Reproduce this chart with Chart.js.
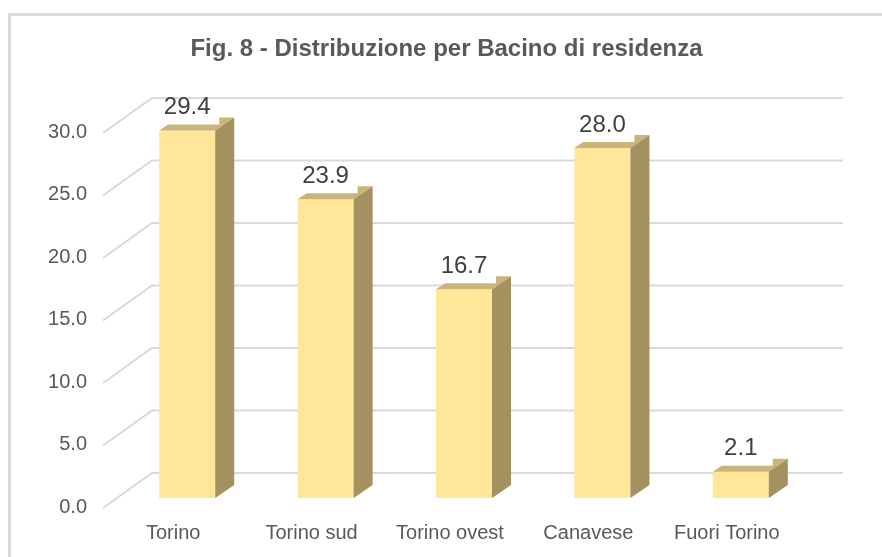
<!DOCTYPE html>
<html>
<head>
<meta charset="utf-8">
<script src="https://cdn.jsdelivr.net/npm/chart.js@4.4.1/dist/chart.umd.min.js"></script>
<style>
  html, body { margin: 0; padding: 0; background: #fff; overflow: hidden; }
  #frame {
    position: absolute; left: 8px; top: 13px; width: 900px; height: 600px;
    border-left: 3px solid #D9D9D9; border-top: 3px solid #D9D9D9;
  }
  #wrap { position: absolute; left: 0; top: 0; width: 882px; height: 557px; }
</style>
</head>
<body>
<div id="frame"></div>
<div id="wrap"><canvas id="chart" width="882" height="557"></canvas></div>
<script>
// Data
const bacini = ["Torino", "Torino sud", "Torino ovest", "Canavese", "Fuori Torino"];
const percentuali = [29.4, 23.9, 16.7, 28.0, 2.1];
const yTicks = [0, 5, 10, 15, 20, 25, 30];

const FONT = '"Liberation Sans", Arial, sans-serif';

// Draws the 3D back wall grid, bar tops/sides and value labels
const depthPlugin = {
    id: 'depth',
    beforeDatasetsDraw(chart) {
        const { ctx, chartArea, scales: { y } } = chart;
        const wallFront = chartArea.left - 15;
        const wallBack = chartArea.left + 34;
        const gridEnd = chartArea.right + 33;
        ctx.save();
        ctx.strokeStyle = '#D9D9D9';
        ctx.lineWidth = 2;
        y.ticks.forEach(t => {
            const py = y.getPixelForValue(t.value);
            ctx.beginPath();
            ctx.moveTo(wallFront, py + 10);
            ctx.lineTo(wallBack, py - 25);
            ctx.lineTo(gridEnd, py - 25);
            ctx.stroke();
        });
        ctx.restore();
    },
    afterDatasetsDraw(chart) {
        const { ctx } = chart;
        const meta = chart.getDatasetMeta(0);
        const dx = 19, dy = 13;
        ctx.save();
        meta.data.forEach((bar, i) => {
            const x0 = bar.x - bar.width / 2;
            const x1 = bar.x + bar.width / 2;
            const top = bar.y, base = bar.base;

            // top face
            ctx.fillStyle = '#C9B57A';
            ctx.beginPath();
            ctx.moveTo(x0, top);
            ctx.lineTo(x0 + 9, top - 6);
            ctx.lineTo(x1 + 4, top - 6);
            ctx.lineTo(x1 + 4, top - dy);
            ctx.lineTo(x1 + dx, top - dy);
            ctx.lineTo(x1, top);
            ctx.closePath();
            ctx.fill();

            // side face
            ctx.fillStyle = '#A39160';
            ctx.beginPath();
            ctx.moveTo(x1, top);
            ctx.lineTo(x1 + dx, top - dy);
            ctx.lineTo(x1 + dx, base - dy);
            ctx.lineTo(x1, base);
            ctx.closePath();
            ctx.fill();

            // value label
            ctx.fillStyle = '#404040';
            ctx.font = '24px ' + FONT;
            ctx.textAlign = 'center';
            ctx.textBaseline = 'middle';
            ctx.fillText(percentuali[i].toFixed(1), bar.x, top - 23);
        });
        ctx.restore();
    }
};

new Chart(document.getElementById('chart'), {
    type: 'bar',
    data: {
        labels: bacini,
        datasets: [{
            data: percentuali,
            backgroundColor: '#FFE699',
            borderWidth: 0,
            categoryPercentage: 1,
            barPercentage: 0.405
        }]
    },
    options: {
        responsive: false,
        animation: false,
        layout: { padding: { left: 11, right: 0, top: 0, bottom: 0 } },
        plugins: {
            legend: { display: false },
            tooltip: { enabled: false },
            title: {
                display: true,
                text: 'Fig. 8 - Distribuzione per Bacino di residenza',
                color: '#595959',
                font: { family: FONT, size: 24, weight: 'bold' },
                padding: { top: 34.6, bottom: 59.6 }
            }
        },
        scales: {
            x: {
                offset: true,
                grid: { display: false, drawTicks: false },
                border: { display: false },
                ticks: {
                    color: '#595959',
                    font: { family: FONT, size: 20 },
                    padding: 23,
                    labelOffset: -14,
                    maxRotation: 0
                },
                afterFit: s => { s.height = 59; }
            },
            y: {
                min: 0,
                max: 30,
                grid: { display: false, drawTicks: false },
                border: { display: false },
                afterBuildTicks: s => { s.ticks = yTicks.map(v => ({ value: v })); },
                ticks: {
                    color: '#595959',
                    font: { family: FONT, size: 20 },
                    padding: 31,
                    labelOffset: 9,
                    callback: v => v.toFixed(1)
                },
                afterFit: s => { s.width = 107; }
            },
            // empty right axis that only reserves the right margin
            yRight: {
                position: 'right',
                grid: { display: false, drawTicks: false },
                border: { display: false },
                ticks: { display: false },
                afterFit: s => { s.width = 72; }
            }
        }
    },
    plugins: [depthPlugin]
});
</script>
</body>
</html>
